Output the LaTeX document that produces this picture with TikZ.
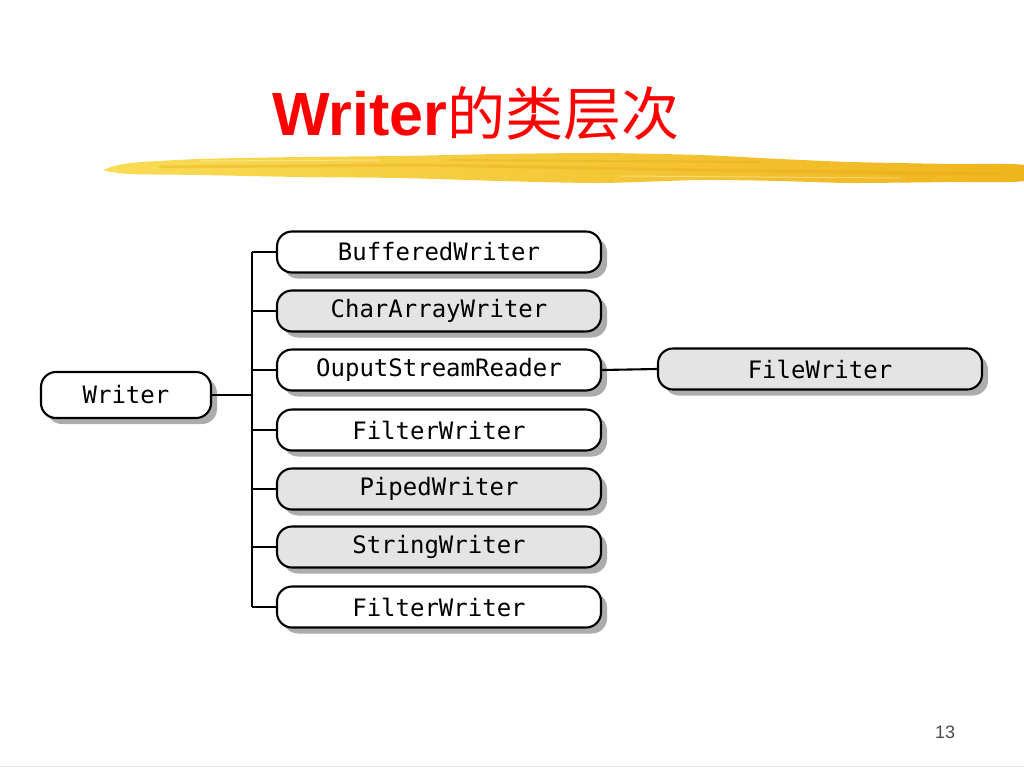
\documentclass[tikz,border=0pt]{standalone}
\usepackage{fontspec}
\setmainfont{Liberation Sans}
\newfontfamily\cjk{Noto Sans CJK SC}
\newfontfamily\monof{DejaVu Sans Mono}
\usetikzlibrary{shadows}
\definecolor{brushA}{HTML}{F9DC55}
\definecolor{brushB}{HTML}{EFB41C}
\definecolor{brushC}{HTML}{E8A810}
\definecolor{nodegray}{HTML}{E4E4E4}
\definecolor{shadowgray}{HTML}{ACACAC}
\begin{document}
\begin{tikzpicture}[x=1pt,y=-1pt,
  cls/.style={draw=black, line width=2.1pt, rounded corners=15pt,
    minimum width=324pt, minimum height=41pt, inner sep=0pt,
    font=\monof\fontsize{24}{24}\selectfont, fill=white,
    drop shadow={shadow xshift=6pt, shadow yshift=-6pt, fill=shadowgray, opacity=1, draw=none}},
  grayfill/.style={fill=nodegray},
  conn/.style={line width=2.1pt}]
\useasboundingbox (0,0) rectangle (1024,768);
\fill[white] (0,0) rectangle (1024,768);

% brush stroke
\shade[left color=brushA, right color=brushB]
  plot[smooth cycle, tension=0.4] coordinates {
   (104,170) (130,163) (200,159) (300,157) (400,156) (500,154) (600,153)
   (700,155) (780,159) (850,162) (950,164) (1024,165)
   (1024,181) (950,182) (850,183) (780,181) (700,180) (600,183)
   (500,181) (400,178) (300,177) (200,175) (130,174)};
\begin{scope}[opacity=0.35, line cap=round]
  \draw[brushC, line width=3pt] (160,167) -- (420,165) -- (700,170) -- (1000,174);
  \draw[brushC, line width=2pt] (450,160) -- (760,162);
  \draw[white, line width=1pt] (200,161) -- (380,160);
  \draw[white, line width=1pt] (620,176) -- (900,178);
\end{scope}

% title
\node[anchor=base west, inner sep=0pt, text=red] (title) at (272,135)
  {\fontsize{61}{61}\selectfont\bfseries Writer\cjk\mdseries\fontsize{58}{58}\selectfont 的类层次};

% nodes
\node[cls, minimum width=170pt, minimum height=46pt] (w) at (126,395) {Writer};
\node[cls] (bw) at (439,252) {BufferedWriter};
\node[cls,grayfill] (ca) at (439,311) {CharArrayWriter};
\node[cls] (os) at (439,370) {OuputStreamReader};
\node[cls] (fw1) at (439,430) {FilterWriter};
\node[cls,grayfill] (pw) at (439,489) {PipedWriter};
\node[cls,grayfill] (sw) at (439,547) {StringWriter};
\node[cls] (fw2) at (439,607) {FilterWriter};
\node[cls,grayfill] (fl) at (820,369) {FileWriter};

% connectors
\coordinate (bus) at (252,395);
\coordinate (bt) at (252,252);
\coordinate (bb) at (252,607);
\draw[conn] (w.east) -- (bus);
\draw[conn] (bt) -- (bb);
\foreach \n in {bw,ca,os,fw1,pw,sw,fw2}
  \draw[conn] (bus |- \n.west) -- (\n.west);
\draw[conn] (os.east) -- (fl.west);

% page number and footer line
\node[font=\fontsize{18}{18}\selectfont, text=black!70] (pg) at (945,732) {13};
\draw[black!10, line width=1pt] (0,766) -- (1024,766);
\end{tikzpicture}
\end{document}
